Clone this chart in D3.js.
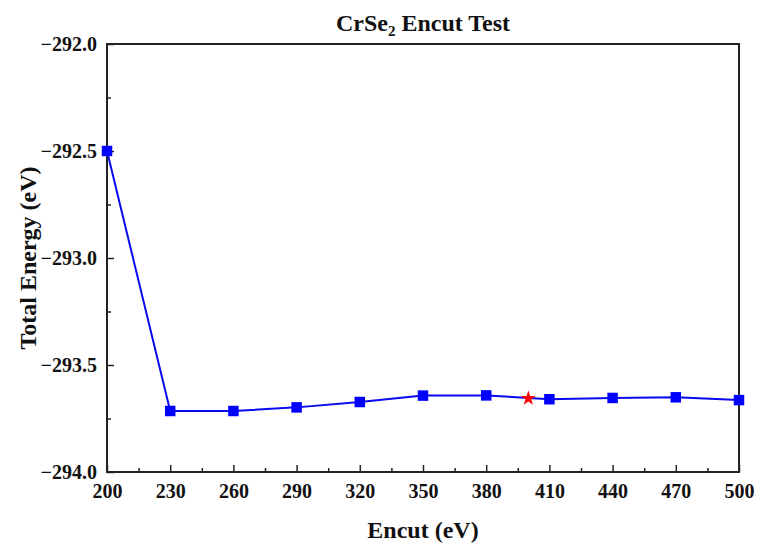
<!DOCTYPE html>
<html>
<head>
<meta charset="utf-8">
<script src="https://cdn.jsdelivr.net/npm/d3@7"></script>
<style>
  body { margin: 0; background: #fff; }
  text { font-family: "Liberation Serif", "Times New Roman", serif; font-weight: bold; }
</style>
</head>
<body>
<div id="chart"></div>
<script>
// Encut test data (eV)
var encut = [200, 230, 260, 290, 320, 350, 380, 410, 440, 470, 500];
var energy = [-292.5, -293.715, -293.715, -293.698, -293.673, -293.643, -293.642, -293.660, -293.654, -293.651, -293.664];

// chosen point (red star)
var starEncut = [400];
var starEnergy = [-293.656];

var xTicks = [200, 230, 260, 290, 320, 350, 380, 410, 440, 470, 500];
var xMinor = [215, 245, 275, 305, 335, 365, 395, 425, 455, 485];
var yTicks = [-292.0, -292.5, -293.0, -293.5, -294.0];
var yMinor = [-292.25, -292.75, -293.25, -293.75];

var svgWidth = 758;
var svgHeight = 547;

var margin = {
  top: 44,
  right: 19,
  bottom: 75,
  left: 107
};

var width = svgWidth - margin.left - margin.right;
var height = svgHeight - margin.top - margin.bottom;

var svg = d3.select("#chart")
  .append("svg")
  .attr("width", svgWidth)
  .attr("height", svgHeight);

var chartGroup = svg.append("g")
  .attr("transform", `translate(${margin.left}, ${margin.top})`);

var xScale = d3.scaleLinear()
  .domain([200, 500])
  .range([0, width]);

var yScale = d3.scaleLinear()
  .domain([-294, -292])
  .range([height, 0]);

// minor ticks first
chartGroup.append("g")
  .attr("class", "minor")
  .attr("transform", `translate(0, ${height})`)
  .call(d3.axisBottom(xScale).tickValues(xMinor).tickSize(-4).tickFormat(""));

chartGroup.append("g")
  .attr("class", "minor")
  .call(d3.axisLeft(yScale).tickValues(yMinor).tickSize(-4).tickFormat(""));

// major axes
var bottomAxis = d3.axisBottom(xScale)
  .tickValues(xTicks)
  .tickSize(-7)
  .tickPadding(12)
  .tickFormat(d3.format("d"));

var leftAxis = d3.axisLeft(yScale)
  .tickValues(yTicks)
  .tickSize(-7)
  .tickPadding(10)
  .tickFormat(d3.format(".1f"));

chartGroup.append("g")
  .attr("class", "xaxis")
  .attr("transform", `translate(0, ${height})`)
  .call(bottomAxis);

chartGroup.append("g")
  .attr("class", "yaxis")
  .call(leftAxis);

chartGroup.selectAll(".domain").remove();
chartGroup.selectAll(".tick line")
  .attr("stroke", "#222")
  .attr("stroke-width", 1.5);
chartGroup.selectAll(".tick text")
  .attr("fill", "#111")
  .style("font-size", "20px");

// frame
chartGroup.append("rect")
  .attr("x", 0)
  .attr("y", 0)
  .attr("width", width)
  .attr("height", height)
  .attr("fill", "none")
  .attr("stroke", "#222")
  .attr("stroke-width", 2);

// line + markers
var points = encut.map((d, i) => [d, energy[i]]);

var line = d3.line()
  .x(d => xScale(d[0]))
  .y(d => yScale(d[1]));

chartGroup.append("path")
  .datum(points)
  .attr("d", line)
  .attr("fill", "none")
  .attr("stroke", "#0a0af0")
  .attr("stroke-width", 2);

chartGroup.selectAll(".marker")
  .data(points)
  .enter()
  .append("path")
  .attr("class", "marker")
  .attr("d", d3.symbol(d3.symbolSquare, 110))
  .attr("transform", d => `translate(${xScale(d[0])}, ${yScale(d[1])})`)
  .attr("fill", "#0000ff");

chartGroup.selectAll(".star")
  .data(starEncut.map((d, i) => [d, starEnergy[i]]))
  .enter()
  .append("path")
  .attr("class", "star")
  .attr("d", d3.symbol(d3.symbolStar, 70))
  .attr("transform", d => `translate(${xScale(d[0])}, ${yScale(d[1])})`)
  .attr("fill", "#ff0000");

// title
var title = svg.append("text")
  .attr("x", margin.left + width / 2)
  .attr("y", 31)
  .attr("text-anchor", "middle")
  .style("font-size", "24px")
  .attr("fill", "#111");
title.append("tspan").text("CrSe");
title.append("tspan").text("2").attr("dy", 5).style("font-size", "15px");
title.append("tspan").text(" Encut Test").attr("dy", -5);

// axis labels
svg.append("text")
  .attr("x", margin.left + width / 2)
  .attr("y", 538)
  .attr("text-anchor", "middle")
  .style("font-size", "24px")
  .attr("fill", "#111")
  .text("Encut (eV)");

svg.append("text")
  .attr("transform", `translate(36, ${margin.top + height / 2}) rotate(-90)`)
  .attr("text-anchor", "middle")
  .style("font-size", "24px")
  .attr("fill", "#111")
  .text("Total Energy (eV)");
</script>
</body>
</html>
